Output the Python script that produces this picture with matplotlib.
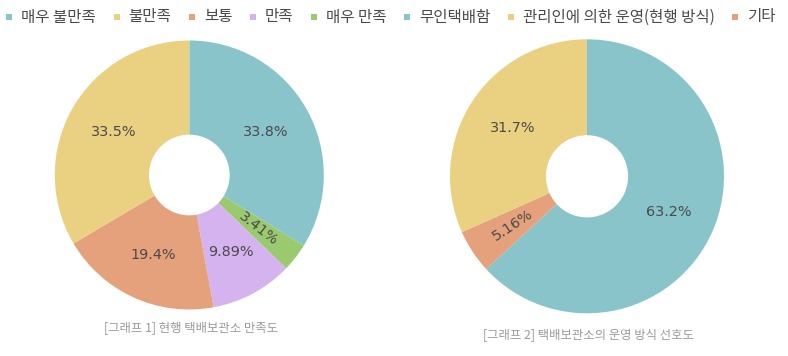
import matplotlib
matplotlib.use("Agg")
import matplotlib.pyplot as plt
import numpy as np

plt.rcParams['font.family'] = ['Noto Sans CJK KR', 'DejaVu Sans']

# ---- data ----
left_labels = ["매우 불만족", "매우 만족", "만족", "보통", "불만족"]
left_values = [33.8, 3.41, 9.89, 19.4, 33.5]
left_text = ["33.8%", "3.41%", "9.89%", "19.4%", "33.5%"]
left_title = "[그래프 1] 현행 택배보관소 만족도"

right_labels = ["무인택배함", "기타", "관리인에 의한 운영(현행 방식)"]
right_values = [63.2, 5.16, 31.7]
right_text = ["63.2%", "5.16%", "31.7%"]
right_title = "[그래프 2] 택배보관소의 운영 방식 선호도"

legend_order = ["매우 불만족", "불만족", "보통", "만족", "매우 만족",
                "무인택배함", "관리인에 의한 운영(현행 방식)", "기타"]

colors = {
    "매우 불만족": "#8AC4CB",
    "불만족": "#E9D181",
    "보통": "#E4A17B",
    "만족": "#D5B3EF",
    "매우 만족": "#9BC970",
    "무인택배함": "#8AC4CB",
    "관리인에 의한 운영(현행 방식)": "#E9D181",
    "기타": "#E4A17B",
}

W, H = 788, 356
fig = plt.figure(figsize=(W / 100, H / 100), dpi=100)
ax = fig.add_axes([0, 0, 1, 1])
ax.set_xlim(0, W)
ax.set_ylim(0, H)
ax.set_aspect('equal')
ax.axis('off')


def donut(values, labels, texts, center, radius, hole=0.3, rotate_small=5.5):
    wedges, _ = ax.pie(values, colors=[colors[l] for l in labels],
                       startangle=90, counterclock=False, center=center,
                       radius=radius, frame=True,
                       wedgeprops=dict(width=radius * (1 - hole), linewidth=0))
    rmid = radius * (1 + hole) / 2
    for w, t, v in zip(wedges, texts, values):
        ang = (w.theta1 + w.theta2) / 2
        x = center[0] + rmid * np.cos(np.deg2rad(ang))
        y = center[1] + rmid * np.sin(np.deg2rad(ang))
        rot = 0
        if v < rotate_small:
            rot = ang
            while rot > 90:
                rot -= 180
            while rot < -90:
                rot += 180
        ax.text(x, y, t, ha='center', va='center', rotation=rot,
                rotation_mode='anchor', color='#4a4a4a', fontsize=10.4,
                family='DejaVu Sans')
    return wedges


donut(left_values, left_labels, left_text, (189.3, H - 175), 134.5)
donut(right_values, right_labels, right_text, (587, H - 176.3), 137)
ax.set_xlim(0, W)
ax.set_ylim(0, H)
ax.axis('off')

ax.text(191, H - 328, left_title, ha='center', va='center', color='#9a9a9a', fontsize=8.9)
ax.text(588, H - 335, right_title, ha='center', va='center', color='#9a9a9a', fontsize=8.9)

# legend row
fig.canvas.draw()
renderer = fig.canvas.get_renderer()
xc = 6.5
yl = H - 17
for lab in legend_order:
    ax.add_patch(plt.Rectangle((xc, yl - 3), 6, 6, color=colors[lab], linewidth=0))
    t = ax.text(xc + 15, yl, lab, ha='left', va='center', color='#4a4a4a', fontsize=11.2)
    bb = t.get_window_extent(renderer)
    xc = bb.x1 + 17.5

fig.savefig("out.png", dpi=100)
